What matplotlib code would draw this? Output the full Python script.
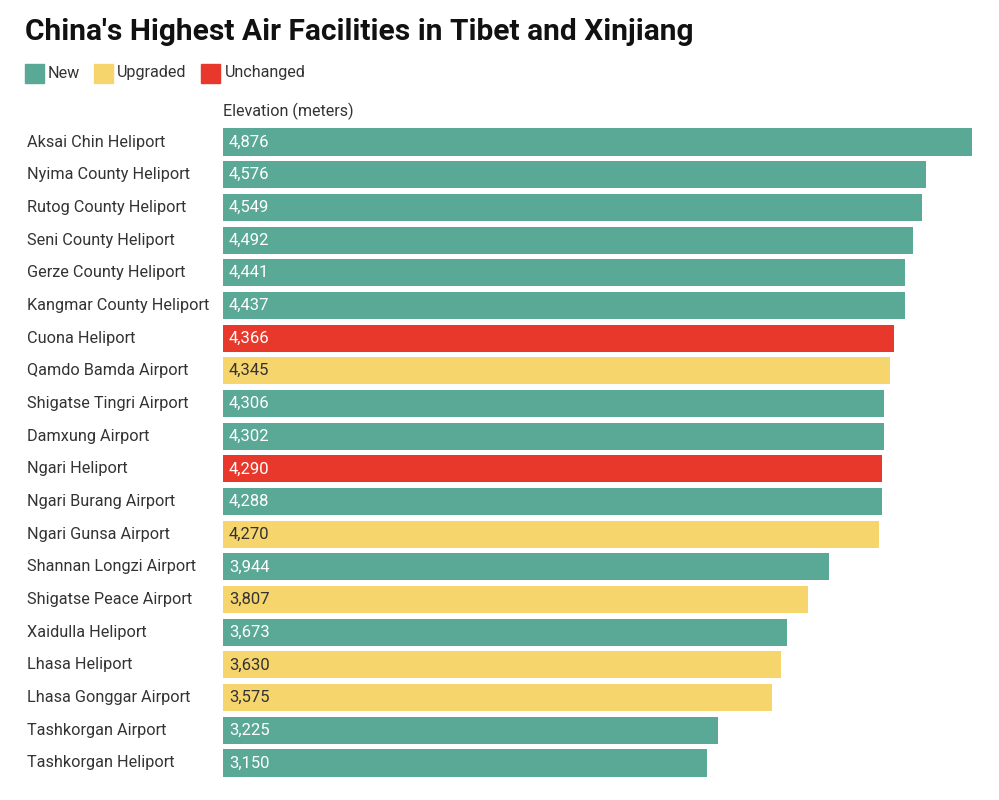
import matplotlib.pyplot as plt
from matplotlib.patches import Rectangle
from matplotlib.transforms import blended_transform_factory

plt.rcParams['font.family'] = ['Roboto', 'DejaVu Sans']

facilities = ["Aksai Chin Heliport", "Nyima County Heliport", "Rutog County Heliport",
              "Seni County Heliport", "Gerze County Heliport", "Kangmar County Heliport",
              "Cuona Heliport", "Qamdo Bamda Airport", "Shigatse Tingri Airport",
              "Damxung Airport", "Ngari Heliport", "Ngari Burang Airport",
              "Ngari Gunsa Airport", "Shannan Longzi Airport", "Shigatse Peace Airport",
              "Xaidulla Heliport", "Lhasa Heliport", "Lhasa Gonggar Airport",
              "Tashkorgan Airport", "Tashkorgan Heliport"]
elevation = [4876, 4576, 4549, 4492, 4441, 4437, 4366, 4345, 4306, 4302,
             4290, 4288, 4270, 3944, 3807, 3673, 3630, 3575, 3225, 3150]
status = ["New", "New", "New", "New", "New", "New", "Unchanged", "Upgraded", "New", "New",
          "Unchanged", "New", "Upgraded", "New", "Upgraded", "New", "Upgraded", "Upgraded",
          "New", "New"]

colors = {"New": "#5aa896", "Upgraded": "#f6d66c", "Unchanged": "#e8382b"}
text_colors = {"New": "white", "Upgraded": "#333333", "Unchanged": "white"}

fig = plt.figure(figsize=(9.99, 8), dpi=100)
ax = fig.add_axes([223 / 999, 1 - 779.3 / 800, (972 - 223) / 999, (779.3 - 125.7) / 800])

ypos = list(range(len(facilities)))
ax.barh(ypos, elevation, height=0.83, color=[colors[s] for s in status])
ax.set_xlim(0, max(elevation))
ax.set_ylim(len(facilities) - 0.5, -0.5)
ax.axis("off")

for i, (v, s) in enumerate(zip(elevation, status)):
    ax.annotate(f"{v:,}", (0, i), xytext=(4.3, 0), textcoords="offset points",
                va="center", ha="left", fontsize=12, color=text_colors[s])

tr = blended_transform_factory(fig.transFigure, ax.transData)
for i, name in enumerate(facilities):
    ax.text(27 / 999, i, name, transform=tr, va="center", ha="left",
            fontsize=11.7, color="#333333")

# title, legend, axis label
fig.text(25 / 999, 1 - 32 / 800, "China's Highest Air Facilities in Tibet and Xinjiang",
         fontsize=21.5, fontweight="bold", color="#111111", va="center", ha="left")

legend_items = [("New", 25, 48), ("Upgraded", 94, 117), ("Unchanged", 201, 225)]
for label, xs, xt in legend_items:
    fig.patches.append(Rectangle((xs / 999, 1 - 83 / 800), 19 / 999, 19 / 800,
                                 transform=fig.transFigure, color=colors[label]))
    fig.text(xt / 999, 1 - 73 / 800, label, fontsize=11.6, color="#333333",
             va="center", ha="left")

fig.text(223 / 999, 1 - 111 / 800, "Elevation (meters)", fontsize=11.6,
         color="#333333", va="center", ha="left")

fig.savefig("out.png", dpi=100, facecolor="white")
